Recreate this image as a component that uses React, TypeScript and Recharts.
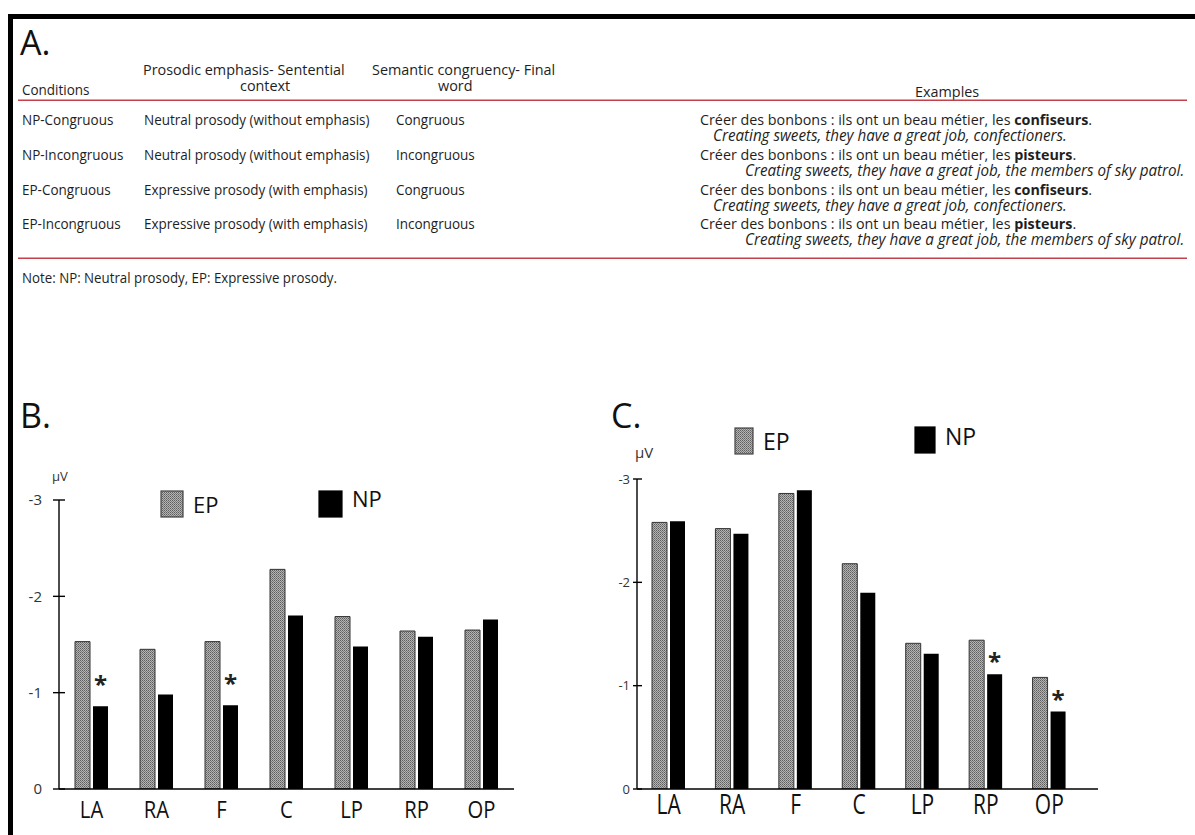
import React from 'react';
import { BarChart, Bar, XAxis, YAxis, Legend, LabelList, Label } from 'recharts';

// ---------- Data ----------
const categories = ['LA', 'RA', 'F', 'C', 'LP', 'RP', 'OP'];
const seriesNames = ['EP', 'NP'];
const yTicks = [-3, -2, -1, 0];

const panelB_EP = [-1.53, -1.45, -1.53, -2.28, -1.79, -1.64, -1.65];
const panelB_NP = [-0.86, -0.98, -0.87, -1.8, -1.48, -1.58, -1.76];
const panelB_sig = [true, false, true, false, false, false, false];

const panelC_EP = [-2.58, -2.52, -2.86, -2.18, -1.41, -1.44, -1.08];
const panelC_NP = [-2.59, -2.47, -2.89, -1.9, -1.31, -1.11, -0.75];
const panelC_sig = [false, false, false, false, false, true, true];

const tableHeaders = ['Conditions', 'Prosodic emphasis- Sentential', 'context', 'Semantic congruency- Final', 'word', 'Examples'];
const conditions = ['NP-Congruous', 'NP-Incongruous', 'EP-Congruous', 'EP-Incongruous'];
const prosodies = [
  'Neutral prosody (without emphasis)',
  'Neutral prosody (without emphasis)',
  'Expressive prosody (with emphasis)',
  'Expressive prosody (with emphasis)',
];
const congruencies = ['Congruous', 'Incongruous', 'Congruous', 'Incongruous'];
const examplePrefix = 'Créer des bonbons : ils ont un beau métier, les ';
const finalWords = ['confiseurs', 'pisteurs', 'confiseurs', 'pisteurs'];
const translations = [
  'Creating sweets, they have a great job, confectioners.',
  'Creating sweets, they have a great job, the members of sky patrol.',
  'Creating sweets, they have a great job, confectioners.',
  'Creating sweets, they have a great job, the members of sky patrol.',
];
const tableNote = 'Note: NP: Neutral prosody, EP: Expressive prosody.';

const FONT = "'Open Sans', 'Noto Sans', sans-serif";
const RED = '#c3414b';
const INK = '#1e1e1e';

const build = (ep: number[], np: number[], sig: boolean[]) =>
  categories.map((c, i) => ({ cat: c, EP: ep[i], NP: np[i], sig: sig[i] }));

const dataB = build(panelB_EP, panelB_NP, panelB_sig);
const dataC = build(panelC_EP, panelC_NP, panelC_sig);

// ---------- helpers ----------
type Cfg = {
  id: string;
  tickL: number;
  tickR: number;
  labelGap: number;
  yFont: number;
  xFont: number;
  xDy: number;
  xScale: number;
  starOff: number;
  starFont: number;
  uvDx: number;
  uvDy: number;
  uvFont: number;
  legend: { sq: [number, number, number, number]; tx: number; ty: number }[];
  legendFont: number;
};

const makeYTick = (cfg: Cfg) => (props: any) => {
  const { x, y, payload } = props;
  return (
    <g>
      <line x1={x - cfg.tickL} x2={x + cfg.tickR} y1={y} y2={y} stroke="#000" strokeWidth={1.4} />
      <text x={x - cfg.labelGap} y={y} dy="0.36em" textAnchor="end" fontSize={cfg.yFont} fill="#333" fontFamily={FONT}>
        {String(payload.value)}
      </text>
    </g>
  );
};

const makeXTick = (cfg: Cfg) => (props: any) => {
  const { x, y, payload } = props;
  return (
    <text
      transform={`translate(${x},${y + cfg.xDy}) scale(${cfg.xScale},1)`}
      textAnchor="middle"
      fontSize={cfg.xFont}
      fill="#111"
      fontFamily={FONT}
    >
      {payload.value}
    </text>
  );
};

const makeStar = (cfg: Cfg, sig: boolean[]) => (props: any) => {
  const { x, y, width, height, index } = props;
  if (!sig[index]) return null;
  const top = Math.min(y, y + height);
  return (
    <text
      x={x + width / 2}
      y={top - cfg.starOff}
      textAnchor="middle"
      fontSize={cfg.starFont}
      fontWeight="bold"
      fill="#222"
      fontFamily={FONT}
    >
      *
    </text>
  );
};

const makeLegend = (cfg: Cfg) => (props: any) => {
  const payload = props.payload || [];
  return (
    <svg width={600} height={200} style={{ position: 'absolute', left: 0, top: 0, overflow: 'visible' }}>
      {payload.map((item: any, i: number) => {
        const L = cfg.legend[i];
        if (!L) return null;
        const [sx, sy, sw, sh] = L.sq;
        return (
          <g key={i}>
            <rect
              x={sx}
              y={sy}
              width={sw}
              height={sh}
              fill={item.value === 'EP' ? `url(#pat${cfg.id})` : '#000'}
              stroke={item.value === 'EP' ? '#444' : '#000'}
              strokeWidth={1.2}
            />
            <text x={L.tx} y={L.ty} fontSize={cfg.legendFont} fill="#111" fontFamily={FONT}>
              {item.value}
            </text>
          </g>
        );
      })}
    </svg>
  );
};

function Panel(props: {
  data: any[];
  sig: boolean[];
  cfg: Cfg;
  width: number;
  height: number;
  margin: any;
  yWidth: number;
  xHeight: number;
  xPadRight: number;
}) {
  const { data, sig, cfg, width, height, margin, yWidth, xHeight, xPadRight } = props;
  return (
    <BarChart width={width} height={height} data={data} margin={margin} barSize={15} barGap={3}>
      <defs>
        <pattern id={`pat${cfg.id}`} width={2} height={2} patternUnits="userSpaceOnUse">
          <rect x={0} y={0} width={2} height={2} fill="#b4b4b4" />
          <rect x={0} y={0} width={1} height={1} fill="#5e5e5e" />
          <rect x={1} y={1} width={1} height={1} fill="#7a7a7a" />
        </pattern>
      </defs>
      <XAxis
        dataKey="cat"
        axisLine={{ stroke: '#000', strokeWidth: 1.4 }}
        tickLine={false}
        tickSize={0}
        tickMargin={0}
        height={xHeight}
        interval={0}
        padding={{ left: 0, right: xPadRight }}
        tick={makeXTick(cfg)}
      />
      <YAxis
        domain={[-3, 0]}
        reversed
        ticks={yTicks}
        interval={0}
        width={yWidth}
        axisLine={{ stroke: '#000', strokeWidth: 1.4 }}
        tickLine={false}
        tickSize={0}
        tickMargin={0}
        tick={makeYTick(cfg)}
        allowDataOverflow
      >
        <Label
          content={(lp: any) => {
            const vb = lp.viewBox || {};
            return (
              <text x={vb.x + vb.width + cfg.uvDx} y={vb.y + cfg.uvDy} fontSize={cfg.uvFont} fill="#333" fontFamily={FONT}>
                μV
              </text>
            );
          }}
        />
      </YAxis>
      <Legend
        content={makeLegend(cfg)}
        wrapperStyle={{ position: 'absolute', left: 0, top: 0, width: 0, height: 0, overflow: 'visible' }}
      />
      <Bar dataKey="EP" name={seriesNames[0]} fill={`url(#pat${cfg.id})`} stroke="#333" strokeWidth={1} isAnimationActive={false} />
      <Bar dataKey="NP" name={seriesNames[1]} fill="#000" isAnimationActive={false}>
        <LabelList dataKey="sig" content={makeStar(cfg, sig)} />
      </Bar>
    </BarChart>
  );
}

const cfgB: Cfg = {
  id: 'B',
  tickL: 6,
  tickR: 6,
  labelGap: 17,
  yFont: 15,
  xFont: 23,
  xDy: 29,
  xScale: 0.88,
  starOff: 13,
  starFont: 24,
  uvDx: -7,
  uvDy: -19,
  uvFont: 13,
  legend: [
    { sq: [161, 111, 22, 26], tx: 193, ty: 133 },
    { sq: [319, 111, 23, 26], tx: 352, ty: 127 },
  ],
  legendFont: 22,
};

const cfgC: Cfg = {
  id: 'C',
  tickL: 4,
  tickR: 5,
  labelGap: 7,
  yFont: 13,
  xFont: 28,
  xDy: 25,
  xScale: 0.75,
  starOff: 4,
  starFont: 24,
  uvDx: -2,
  uvDy: -21,
  uvFont: 15,
  legend: [
    { sq: [145, 48, 18, 26], tx: 173, ty: 70 },
    { sq: [325, 47, 20, 26], tx: 355, ty: 65 },
  ],
  legendFont: 23,
};

function T(props: { x: number; y: number; size?: number; sx?: number; italic?: boolean; children: any }) {
  const { x, y, size = 15, sx = 0.9, italic, children } = props;
  return (
    <text
      transform={`translate(${x},${y}) scale(${sx},1)`}
      fontSize={size}
      fill={INK}
      fontStyle={italic ? 'italic' : 'normal'}
    >
      {children}
    </text>
  );
}

function TableA() {
  const rowY = [125, 160, 195, 229];
  const transY = [141, 176, 211, 245];
  const transX = [713, 745, 713, 745];
  return (
    <svg width={1195} height={300} style={{ position: 'absolute', left: 0, top: 0 }} fontFamily={FONT}>
      <text x={20} y={55} fontSize={34} fill="#111">A.</text>
      <T x={22} y={95}>{tableHeaders[0]}</T>
      <T x={143} y={75} sx={0.96}>{tableHeaders[1]}</T>
      <T x={240} y={91} sx={0.96}>{tableHeaders[2]}</T>
      <T x={372} y={75} sx={0.96}>{tableHeaders[3]}</T>
      <T x={438} y={91} sx={0.96}>{tableHeaders[4]}</T>
      <T x={915} y={97} sx={0.96}>{tableHeaders[5]}</T>
      <rect x={18} y={99.5} width={1169} height={1.5} fill={RED} />
      {conditions.map((c, i) => (
        <g key={c}>
          <T x={22} y={rowY[i]}>{c}</T>
          <T x={144} y={rowY[i]}>{prosodies[i]}</T>
          <T x={396} y={rowY[i]}>{congruencies[i]}</T>
          <T x={700} y={rowY[i]} sx={0.955}>
            {examplePrefix}
            <tspan fontWeight="bold">{finalWords[i]}</tspan>.
          </T>
          <T x={transX[i]} y={transY[i]} size={15.5} sx={0.98} italic>{translations[i]}</T>
        </g>
      ))}
      <rect x={18} y={257.5} width={1169} height={1.5} fill={RED} />
      <T x={22} y={283} size={14} sx={0.95}>{tableNote}</T>
    </svg>
  );
}

export default function App() {
  return (
    <div
      style={{
        position: 'absolute',
        left: 0,
        top: 0,
        width: 1195,
        height: 835,
        background: '#fff',
        overflow: 'hidden',
        fontFamily: FONT,
      }}
    >
      <div style={{ position: 'absolute', left: 8, top: 14, width: 1187, height: 5, background: '#000' }} />
      <div style={{ position: 'absolute', left: 8, top: 14, width: 5, height: 821, background: '#000' }} />
      <TableA />
      <div style={{ position: 'absolute', left: 20, top: 395, fontSize: 34, lineHeight: '40px', color: '#111' }}>B.</div>
      <div style={{ position: 'absolute', left: 611, top: 395, fontSize: 34, lineHeight: '40px', color: '#111' }}>C.</div>
      <div style={{ position: 'absolute', left: 0, top: 380 }}>
        <Panel
          data={dataB}
          sig={panelB_sig}
          cfg={cfgB}
          width={590}
          height={455}
          margin={{ top: 120, right: 76, left: 0, bottom: 0 }}
          yWidth={59}
          xHeight={46}
          xPadRight={0}
        />
      </div>
      <div style={{ position: 'absolute', left: 590, top: 380 }}>
        <Panel
          data={dataC}
          sig={panelC_sig}
          cfg={cfgC}
          width={605}
          height={455}
          margin={{ top: 99, right: 97, left: 0, bottom: 0 }}
          yWidth={47}
          xHeight={46}
          xPadRight={17}
        />
      </div>
    </div>
  );
}
